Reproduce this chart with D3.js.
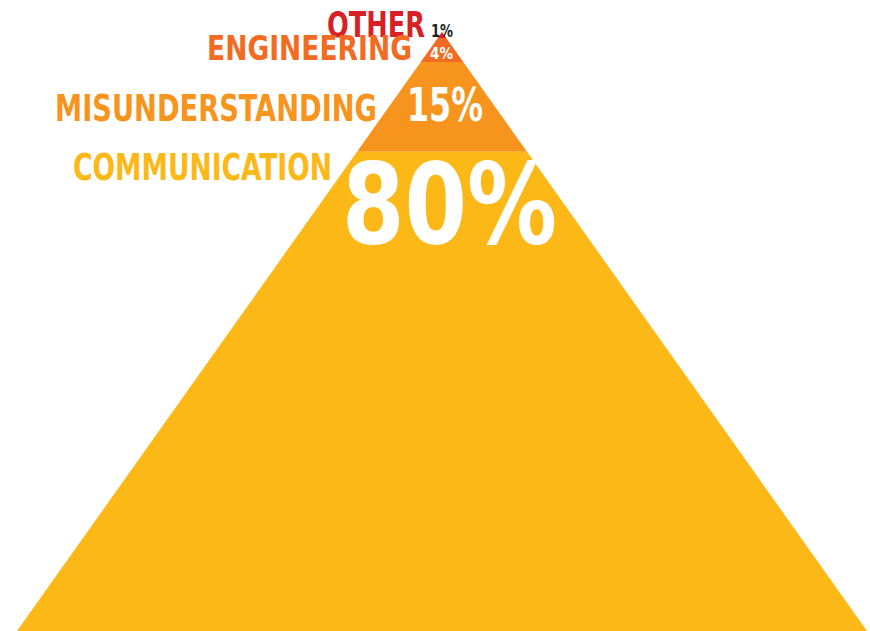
<!DOCTYPE html>
<html>
<head>
<meta charset="utf-8">
<script src="https://cdn.jsdelivr.net/npm/d3@7"></script>
<style>
  html, body { margin: 0; padding: 0; background: #fff; }
  svg { display: block; }
  text { font-family: "DejaVu Sans Condensed", "DejaVu Sans", sans-serif; font-weight: bold; }
</style>
</head>
<body>
<div class="chart"></div>
<script>
// data, top of the pyramid first
var categories = ["OTHER", "ENGINEERING", "MISUNDERSTANDING", "COMMUNICATION"];
var values = [1, 4, 15, 80];
var valueLabels = ["1%", "4%", "15%", "80%"];
var colors = ["#D71F26", "#F26B22", "#F7941D", "#FBB817"];

var svgWidth = 870;
var svgHeight = 631;

var svg = d3.select(".chart").append("svg")
  .attr("width", svgWidth)
  .attr("height", svgHeight);

// pyramid geometry: cumulative percent -> y, and -> half width
var cx = 442;
var yScale = d3.scaleLinear().domain([0, 100]).range([32, 631]);
var wScale = d3.scaleLinear().domain([0, 100]).range([0, 425]);

var rows = [];
var cum = 0;
values.forEach(function(v, i) {
  rows.push({ name: categories[i], value: v, label: valueLabels[i], color: colors[i], start: cum, end: cum + v });
  cum += v;
});

svg.selectAll("path.band").data(rows).enter().append("path")
  .attr("class", "band")
  .attr("fill", function(d) { return d.color; })
  .attr("d", function(d) {
    var y0 = yScale(d.start), y1 = yScale(d.end);
    var w0 = wScale(d.start), w1 = wScale(d.end);
    return "M" + (cx - w0) + "," + y0 + "L" + (cx + w0) + "," + y0 +
      "L" + (cx + w1) + "," + y1 + "L" + (cx - w1) + "," + y1 + "Z";
  });

// label layout (baseline, right end, font size, fitted width)
var nameLayout = [
  { x: 425, y: 37, size: 35, len: 98 },
  { x: 412, y: 60, size: 34, len: 205 },
  { x: 377, y: 121, size: 37, len: 322 },
  { x: 332, y: 180, size: 38, len: 259 }
];
var valueLayout = [
  { x: 442, y: 37, size: 18, len: 22, fill: "#231F20" },
  { x: 441.5, y: 59, size: 15, len: 23, fill: "#fff" },
  { x: 445, y: 121, size: 47, len: 76, fill: "#fff" },
  { x: 449.5, y: 243, size: 112, len: 215, fill: "#fff" }
];

svg.selectAll("text.name").data(rows).enter().append("text")
  .attr("class", "name")
  .attr("text-anchor", "end")
  .attr("x", function(d, i) { return nameLayout[i].x; })
  .attr("y", function(d, i) { return nameLayout[i].y; })
  .attr("font-size", function(d, i) { return nameLayout[i].size; })
  .attr("textLength", function(d, i) { return nameLayout[i].len; })
  .attr("lengthAdjust", "spacingAndGlyphs")
  .attr("fill", function(d) { return d.color; })
  .text(function(d) { return d.name; });

svg.selectAll("text.value").data(rows).enter().append("text")
  .attr("class", "value")
  .attr("text-anchor", "middle")
  .attr("x", function(d, i) { return valueLayout[i].x; })
  .attr("y", function(d, i) { return valueLayout[i].y; })
  .attr("font-size", function(d, i) { return valueLayout[i].size; })
  .attr("textLength", function(d, i) { return valueLayout[i].len; })
  .attr("lengthAdjust", "spacingAndGlyphs")
  .attr("fill", function(d, i) { return valueLayout[i].fill; })
  .text(function(d) { return d.label; });
</script>
</body>
</html>
